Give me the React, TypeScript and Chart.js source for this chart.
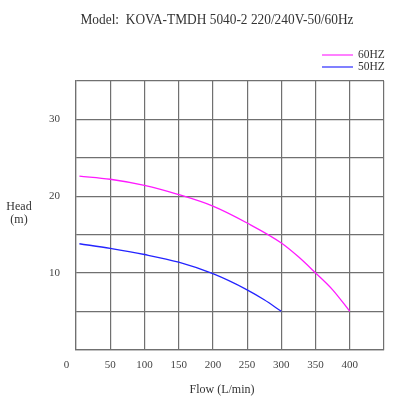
import React, { useEffect, useRef } from "react";
import { Chart, registerables } from "chart.js";

Chart.register(...registerables);

const titleText = "Model:  KOVA-TMDH 5040-2 220/240V-50/60Hz";
const xTitle = "Flow (L/min)";
const yTitleLines = ["Head", "(m)"];

const flow60 = [5, 50, 100, 150, 200, 250, 300, 325, 350, 375, 400];
const head60 = [22.6, 22.2, 21.4, 20.2, 18.7, 16.5, 13.9, 12.1, 10.0, 7.8, 5.0];
const flow50 = [5, 50, 100, 150, 200, 250, 275, 300];
const head50 = [13.8, 13.2, 12.4, 11.4, 9.9, 7.8, 6.5, 5.0];

const label60 = "60HZ";
const label50 = "50HZ";
const xLabeled = [0, 50, 100, 150, 200, 250, 300, 350, 400];
const yLabeled = [10, 20, 30];

const FONT = "'Liberation Serif', 'DejaVu Serif', serif";

export default function App() {
  const ref = useRef<HTMLCanvasElement | null>(null);

  useEffect(() => {
    if (!ref.current) return;
    const textPlugin = {
      id: "texts",
      afterDraw(chart: any) {
        const ctx = chart.ctx;
        const area = chart.chartArea;
        ctx.save();
        ctx.fillStyle = "#333";
        ctx.textAlign = "center";
        ctx.textBaseline = "middle";
        ctx.font = `15px ${FONT}`;
        const w = ctx.measureText(titleText).width;
        const sx = Math.min(1, 273 / w);
        ctx.save();
        ctx.translate(217, 20);
        ctx.scale(sx, 1);
        ctx.fillText(titleText, 0, 0);
        ctx.restore();
        ctx.font = `12px ${FONT}`;
        ctx.fillText(xTitle, (area.left + area.right) / 2 - 8, 390);
        yTitleLines.forEach((t, i) => ctx.fillText(t, 19, 207 + i * 13));
        // legend
        const ds = chart.data.datasets;
        const legendColors = ["#ff80ff", "#8080ff"];
        ds.forEach((d: any, i: number) => {
          const y = 55 + i * 12;
          ctx.strokeStyle = legendColors[i];
          ctx.lineWidth = 2;
          ctx.beginPath();
          ctx.moveTo(322, y);
          ctx.lineTo(353, y);
          ctx.stroke();
          ctx.fillStyle = "#333";
          ctx.textAlign = "left";
          ctx.font = `11.5px ${FONT}`;
          ctx.fillText(d.label, 358, y);
        });
        ctx.restore();
      },
    };

    const chart = new Chart(ref.current, {
      type: "line",
      data: {
        datasets: [
          {
            label: label60,
            data: flow60.map((x, i) => ({ x, y: head60[i] })),
            borderColor: "#ff1aff",
            borderWidth: 1.3,
            pointRadius: 0,
            cubicInterpolationMode: "monotone",
            fill: false,
          },
          {
            label: label50,
            data: flow50.map((x, i) => ({ x, y: head50[i] })),
            borderColor: "#2424ff",
            borderWidth: 1.3,
            pointRadius: 0,
            cubicInterpolationMode: "monotone",
            fill: false,
          },
        ],
      },
      options: {
        responsive: false,
        animation: false,
        layout: { padding: { top: 81, right: 8.5, left: 0, bottom: 0 } },
        plugins: {
          legend: { display: false },
          title: { display: false },
          tooltip: { enabled: false },
        },
        scales: {
          x: {
            type: "linear",
            min: 0,
            max: 450,
            afterFit: (s: any) => {
              s.height = 397 - 349.7;
            },
            ticks: {
              stepSize: 50,
              padding: 9,
              maxRotation: 0,
              autoSkip: false,
              color: "#444",
              font: { family: FONT, size: 11 },
              callback: (v: any) => {
                if (v === 0) return "0       ";
                return xLabeled.includes(v) ? String(v) : "";
              },
            },
            grid: { color: "#707070", lineWidth: 1.2, drawTicks: false },
            border: { color: "#707070", width: 1.2 },
          },
          y: {
            type: "linear",
            min: 0,
            max: 35,
            afterFit: (s: any) => {
              s.width = 76;
            },
            ticks: {
              stepSize: 5,
              padding: 16,
              color: "#444",
              font: { family: FONT, size: 11 },
              callback: (v: any) => (yLabeled.includes(v) ? String(v) : ""),
            },
            grid: { color: "#707070", lineWidth: 1.2, drawTicks: false },
            border: { color: "#707070", width: 1.2 },
          },
        },
      },
      plugins: [textPlugin],
    } as any);
    return () => chart.destroy();
  }, []);

  return (
    <div style={{ position: "fixed", left: 0, top: 0, width: 393, height: 397, background: "#fff" }}>
      <canvas ref={ref} width={393} height={397} />
    </div>
  );
}
